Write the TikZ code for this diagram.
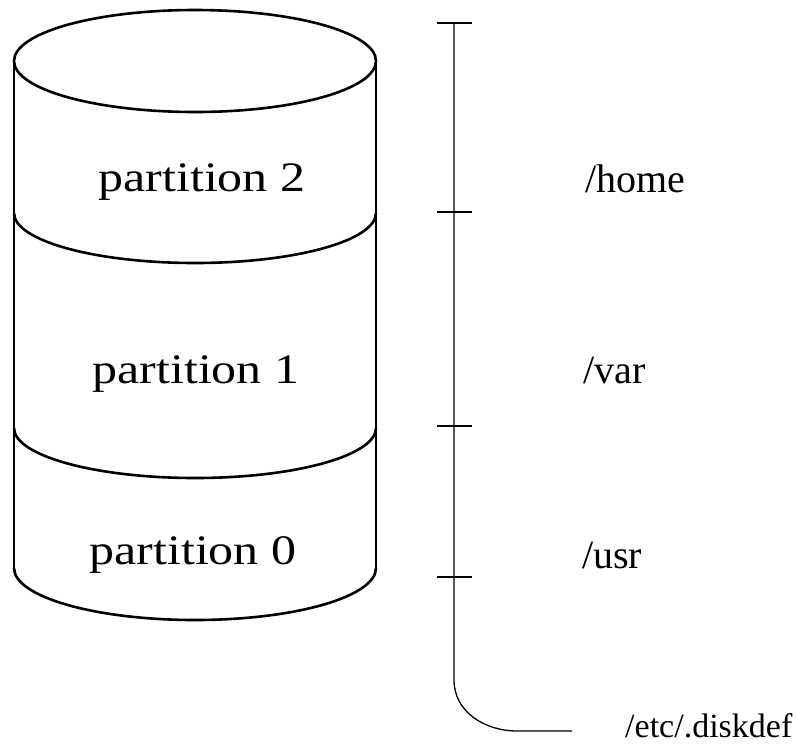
\documentclass[tikz,border=0pt]{standalone}
\usepackage{fontspec}
\setmainfont{Liberation Serif}
\newfontfamily\widefont[FakeStretch=1.19]{Liberation Serif}
\begin{document}
\begin{tikzpicture}[x=1pt,y=1pt,
  disk/.style={line width=2.6pt, line join=round},
  scalebar/.style={line width=1.3pt},
  partlabel/.style={inner sep=0pt, anchor=base, font=\widefont\fontsize{42}{50}\selectfont},
  dirlabel/.style={inner sep=0pt, anchor=base west, font=\fontsize{40}{48}\selectfont}]
\useasboundingbox (0,0) rectangle (798,-748);

% disk cylinder: top face, sides and partition boundaries
\draw[disk] (195,-61) ellipse [x radius=181, y radius=51];
\draw[disk] (14,-61) -- (14,-568);
\draw[disk] (376,-61) -- (376,-568);
\draw[disk] (14,-213) arc [start angle=180, end angle=360, x radius=181, y radius=50];
\draw[disk] (14,-428) arc [start angle=180, end angle=360, x radius=181, y radius=50];
\draw[disk] (14,-568) arc [start angle=180, end angle=360, x radius=181, y radius=52];

\node[partlabel] (p2) at (202,-191) {partition 2};
\node[partlabel] (p1) at (196,-383) {partition 1};
\node[partlabel] (p0) at (193,-564) {partition 0};

% mount point scale
\coordinate (t0) at (454,-23);
\coordinate (t1) at (454,-212);
\coordinate (t2) at (454,-426);
\coordinate (t3) at (454,-577);
\coordinate (bend) at (454,-680);
\coordinate (foot) at (517,-731);
\coordinate (tail) at (572,-731);
\draw[scalebar] (t0) -- (t1) -- (t2) -- (t3) -- (bend)
  .. controls (454,-712) and (485,-731) .. (foot) -- (tail);
\foreach \t in {t0,t1,t2,t3}
  \draw[scalebar] ([xshift=-17pt]\t) -- ([xshift=18pt]\t);

\node[dirlabel] (home) at (585,-192) {/home};
\node[dirlabel] (var) at (583,-383) {/var};
\node[dirlabel] (usr) at (582,-568) {/usr};
\node[dirlabel, font=\fontsize{34}{40}\selectfont] (diskdef) at (625,-737) {/etc/.diskdef};
\end{tikzpicture}
\end{document}
